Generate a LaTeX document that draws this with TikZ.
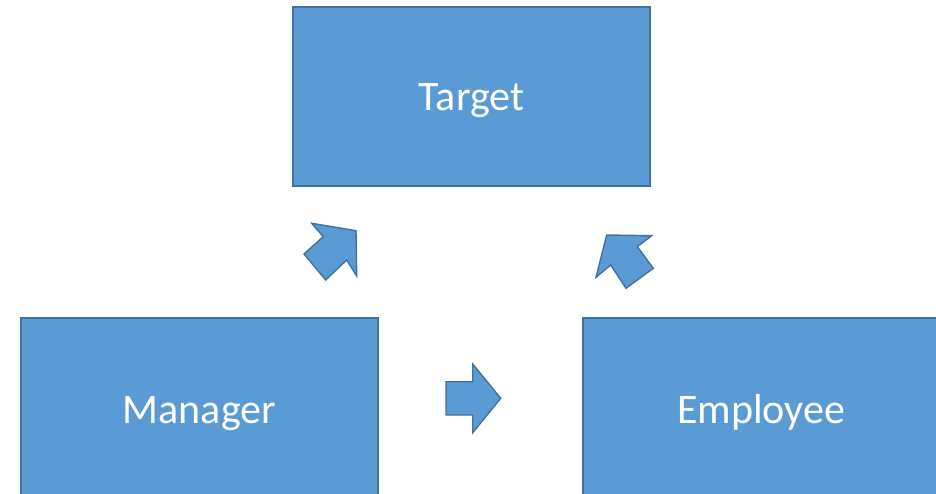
\documentclass[tikz,border=0pt]{standalone}
\usepackage{fontspec}
\setmainfont{Carlito}
\definecolor{boxfill}{HTML}{5B9BD5}
\definecolor{boxline}{HTML}{41719C}
\tikzset{
  blockbox/.style={draw=boxline, fill=boxfill, line width=1.6pt, minimum width=357pt, minimum height=182pt, inner sep=0pt,
    text=white, font=\fontsize{42}{50}\selectfont, text height=33pt, text depth=4pt},
  blockarrow/.style={draw=boxline, fill=boxfill, line width=1.4pt, line join=miter}
}
\begin{document}
\begin{tikzpicture}[x=1pt,y=-1pt]
\useasboundingbox (0,0) rectangle (936,494);
\clip (0,0) rectangle (936,494);
\node[blockbox, minimum height=179pt] (target) at (471.5,96.5) {Target};
\node[blockbox] (manager) at (199.5,409.2) {Manager};
\node[blockbox, minimum width=356pt] (employee) at (761,409.2) {Employee};
% diagonal arrow manager -> target
\path[blockarrow] (311.7,223.3) -- (356,230.7) -- (356.7,276) -- (346.7,260) -- (325.7,280) -- (304,254) -- (323.3,236.7) -- cycle;
% diagonal arrow employee -> target
\path[blockarrow] (606.7,235) -- (651.7,235.7) -- (637.3,246.7) -- (653.3,268.3) -- (626,288.3) -- (610.7,265) -- (596,277.3) -- cycle;
% horizontal arrow manager -> employee
\path[blockarrow] (446,381.7) -- (472.7,381.7) -- (472.7,364) -- (500.7,398.3) -- (472.7,432.7) -- (472.7,415) -- (446,415) -- cycle;
\end{tikzpicture}
\end{document}
